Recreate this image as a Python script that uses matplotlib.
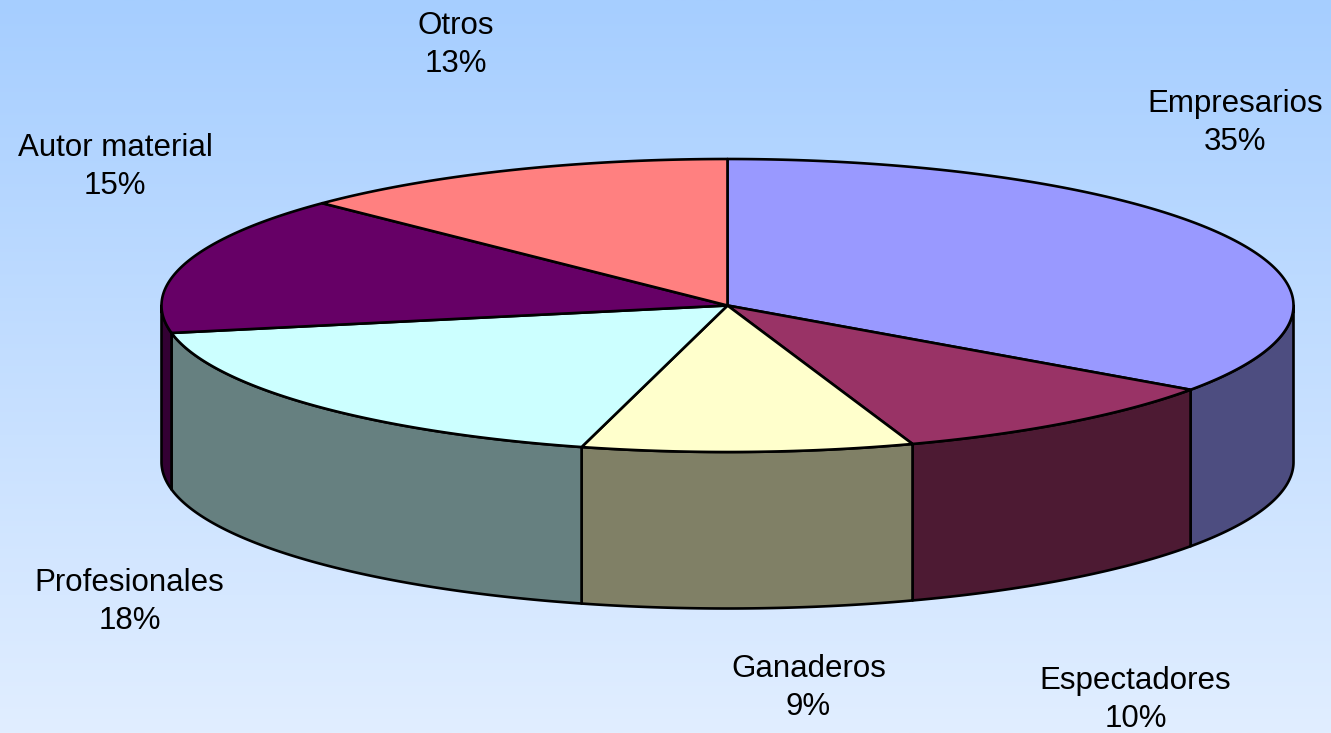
import numpy as np
import matplotlib
matplotlib.use('Agg')
import matplotlib.pyplot as plt

plt.rcParams['font.family'] = ['Liberation Sans', 'DejaVu Sans']

# shares, clockwise from 12 o'clock (labels show them rounded)
names = ['Empresarios', 'Espectadores', 'Ganaderos', 'Profesionales', 'Autor material', 'Otros']
shares = [34.75, 9.95, 9.45, 17.85, 15.3, 12.7]
top_colors = ['#9999FF', '#993366', '#FFFFCC', '#CCFFFF', '#660066', '#FF8080']
side_colors = ['#4D4D80', '#4D1A33', '#808066', '#668080', '#330033', '#804040']

# pie geometry in pixels
cx, cy = 727.5, 305.5
rx, ry = 566, 146.5
depth = 156.5
label_xy = [(1235.5, 123), (1135.5, 700), (808.5, 688), (129.5, 602), (115, 167), (455.5, 45)]

W, H = 1331, 733
fig = plt.figure(figsize=(W / 100, H / 100), dpi=100)
ax = fig.add_axes([0, 0, 1, 1])
ax.set_xlim(0, W)
ax.set_ylim(H, 0)
ax.axis('off')

# background gradient
grad = np.linspace(0, 1, 256).reshape(-1, 1)
cmap = matplotlib.colors.LinearSegmentedColormap.from_list('bg', ['#A6CEFF', '#E1EEFF'])
ax.imshow(grad, extent=[0, W, H, 0], aspect='auto', cmap=cmap, zorder=0)


def rim(a, b):
    t = np.radians(np.linspace(a, b, 200))
    return cx + rx * np.sin(t), cy - ry * np.cos(t)


edges = np.cumsum([0] + shares) * 3.6

# side wall first, only the front half (90..270 deg) can be seen
for i in range(len(shares)):
    a = max(edges[i], 90)
    b = min(edges[i + 1], 270)
    if b <= a:
        continue
    x, y = rim(a, b)
    ax.fill(np.r_[x, x[::-1]], np.r_[y, y[::-1] + depth], fc=side_colors[i], ec='black', lw=1.9,
            joinstyle='round', zorder=2)

# top face
for i in range(len(shares)):
    x, y = rim(edges[i], edges[i + 1])
    ax.fill(np.r_[cx, x], np.r_[cy, y], fc=top_colors[i], ec='black', lw=1.9,
            joinstyle='round', zorder=3)

for i in range(len(names)):
    ax.text(label_xy[i][0], label_xy[i][1], '%s\n%.0f%%' % (names[i], shares[i]), ha='center', va='center',
            ma='center', fontsize=22.5, linespacing=1.38, color='black', zorder=4)

fig.savefig('out.png', dpi=100)
